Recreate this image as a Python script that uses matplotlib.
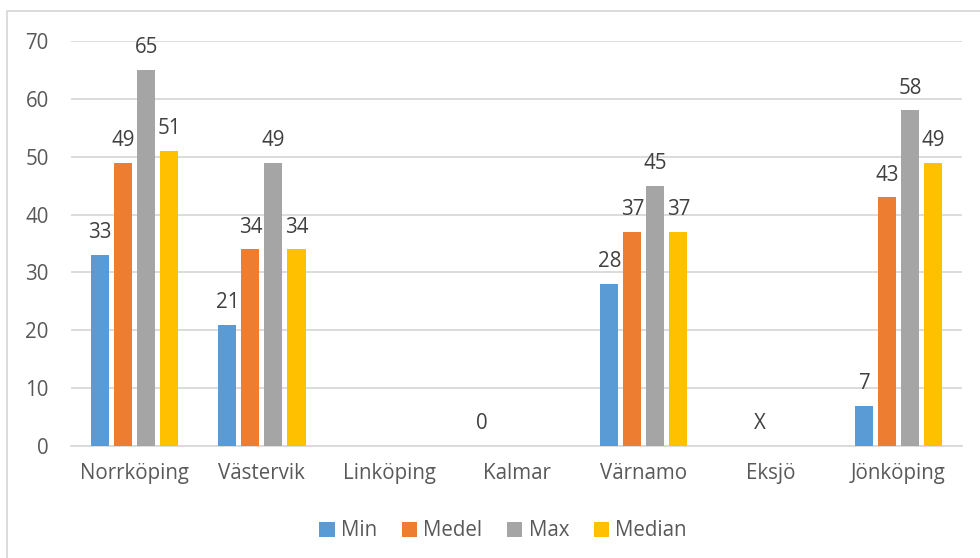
import numpy as np
import matplotlib.pyplot as plt
from matplotlib.patches import Rectangle

plt.rcParams['font.family'] = ['Open Sans', 'DejaVu Sans']

cities = ['Norrköping', 'Västervik', 'Linköping', 'Kalmar', 'Värnamo', 'Eksjö', 'Jönköping']
series = ['Min', 'Medel', 'Max', 'Median']
colors = ['#5B9BD5', '#ED7D31', '#A5A5A5', '#FFC000']

# None = no value reported
min_vals = [33, 21, None, 0, 28, None, 7]
medel_vals = [49, 34, None, None, 37, 'X', 43]
max_vals = [65, 49, None, None, 45, None, 58]
median_vals = [51, 34, None, None, 37, None, 49]
all_vals = [min_vals, medel_vals, max_vals, median_vals]

fig = plt.figure(figsize=(9.8, 5.58), dpi=100)
ax = fig.add_axes([71 / 980, 1 - 446 / 558, (962 - 71) / 980, (446 - 41) / 558])

x = np.arange(len(cities))
width = 0.142
step = 0.181
grey = '#595959'
fs = 14.8

for i, (name, vals, col) in enumerate(zip(series, all_vals, colors)):
    pos = x + (i - 1.5) * step
    heights = [v if isinstance(v, (int, float)) else 0 for v in vals]
    heights = [0 if v is None else v for v in heights]
    ax.bar(pos, heights, width=width, color=col, label=name, zorder=3)
    for p, v in zip(pos, vals):
        if v is None:
            continue
        h = v if isinstance(v, (int, float)) else 0
        ax.annotate(str(v), (p, h), xytext=(0, 12), textcoords='offset points',
                    ha='center', va='baseline', fontsize=fs, color='#404040')

ax.set_xlim(-0.5, len(cities) - 0.5)
ax.set_ylim(0, 70)
ax.set_yticks(range(0, 71, 10))
ax.set_xticks(x)
ax.set_xticklabels(cities)
ax.yaxis.grid(True, color='#D9D9D9', linewidth=1.3, zorder=0)
ax.set_axisbelow(True)
for s in ['top', 'right', 'left']:
    ax.spines[s].set_visible(False)
ax.spines['bottom'].set_color('#D9D9D9')
ax.spines['bottom'].set_linewidth(1.3)
ax.tick_params(axis='both', length=0, labelsize=fs, labelcolor=grey)
ax.tick_params(axis='y', pad=16)
ax.tick_params(axis='x', pad=12)

leg = fig.legend(loc='center', bbox_to_anchor=(503 / 980, 1 - 531 / 558), ncol=4,
                 frameon=False, fontsize=fs, handlelength=0.75, handleheight=0.75,
                 handletextpad=0.3, columnspacing=1.2)
for t in leg.get_texts():
    t.set_color(grey)

# outer chart frame
fig.patches.append(Rectangle((7 / 980, -0.1), 1.2, 1 - 11 / 558 + 0.1,
                             transform=fig.transFigure, fill=False,
                             edgecolor='#D9D9D9', linewidth=1.3))

fig.savefig('out.png', dpi=100)
